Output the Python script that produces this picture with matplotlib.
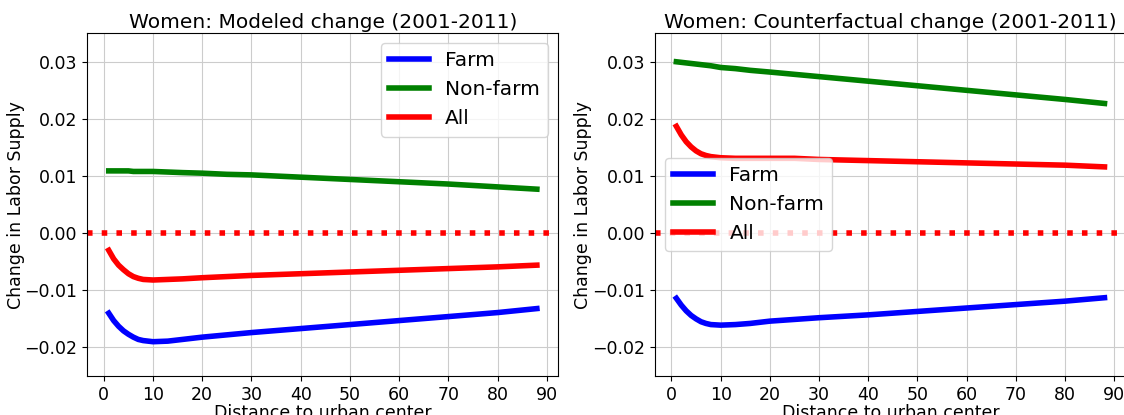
import numpy as np
import matplotlib
matplotlib.use("Agg")
import matplotlib.pyplot as plt

# distance to urban center (km)
dist = [1, 2, 3, 4, 5, 6, 7, 8, 10, 13, 16, 20, 25, 30, 40, 50, 60, 70, 80, 88]

# modeled change 2001-2011
mod_farm = [-0.0140, -0.0153, -0.0163, -0.0171, -0.0177, -0.0182, -0.0186, -0.0188,
            -0.0190, -0.0189, -0.0186, -0.0182, -0.0178, -0.0174, -0.0167, -0.0160,
            -0.0153, -0.0146, -0.0139, -0.0132]
mod_nonfarm = [0.0109, 0.0109, 0.0109, 0.0109, 0.0109, 0.0108, 0.0108, 0.0108,
               0.0108, 0.0107, 0.0106, 0.0105, 0.0103, 0.0102, 0.0098, 0.0094,
               0.0090, 0.0086, 0.0081, 0.0077]
mod_all = [-0.0030, -0.0045, -0.0056, -0.0064, -0.0071, -0.0076, -0.0079, -0.0081,
           -0.0082, -0.0081, -0.0080, -0.0078, -0.0076, -0.0074, -0.0071, -0.0068,
           -0.0065, -0.0062, -0.0059, -0.0056]

# counterfactual change 2001-2011
cf_farm = [-0.0114, -0.0126, -0.0136, -0.0144, -0.0150, -0.0155, -0.0158, -0.0160,
           -0.0161, -0.0160, -0.0158, -0.0154, -0.0151, -0.0148, -0.0143, -0.0137,
           -0.0131, -0.0125, -0.0119, -0.0113]
cf_nonfarm = [0.0300, 0.0299, 0.0298, 0.0297, 0.0296, 0.0295, 0.0294, 0.0293,
              0.0290, 0.0288, 0.0285, 0.0282, 0.0278, 0.0274, 0.0266, 0.0258,
              0.0250, 0.0242, 0.0234, 0.0227]
cf_all = [0.0187, 0.0172, 0.0160, 0.0151, 0.0144, 0.0139, 0.0136, 0.0134,
          0.0132, 0.0131, 0.0131, 0.0131, 0.0131, 0.0129, 0.0127, 0.0125,
          0.0123, 0.0121, 0.0119, 0.0116]

panels = [
    ("Women: Modeled change (2001-2011)", mod_farm, mod_nonfarm, mod_all, "upper right"),
    ("Women: Counterfactual change (2001-2011)", cf_farm, cf_nonfarm, cf_all, "center left"),
]

fig = plt.figure(figsize=(11.24, 4.15), dpi=100)
# second panel runs slightly past the right edge of the canvas
axes = [fig.add_axes([0.0777, 0.094, 0.419, 0.826]),
        fig.add_axes([0.5827, 0.094, 0.419, 0.826])]

for ax, (title, farm, nonfarm, allw, loc) in zip(axes, panels):
    ax.plot(dist, farm, color="blue", lw=4, label="Farm")
    ax.plot(dist, nonfarm, color="green", lw=4, label="Non-farm")
    ax.plot(dist, allw, color="red", lw=4, label="All")
    ax.axhline(0, color="red", lw=4, ls=":")
    ax.set_ylim(-0.025, 0.035)
    ax.set_xticks(range(0, 91, 10))
    ax.grid(True, color="#cccccc", lw=0.8)
    ax.tick_params(labelsize=12.5)
    ax.set_title(title, fontsize=14.5, pad=4)
    ax.set_xlabel("Distance to urban center", fontsize=12.5, labelpad=0)
    ax.set_ylabel("Change in Labor Supply", fontsize=12.5, labelpad=0)
    ax.legend(loc=loc, fontsize=14.5)

fig.savefig("out.png", dpi=100)
